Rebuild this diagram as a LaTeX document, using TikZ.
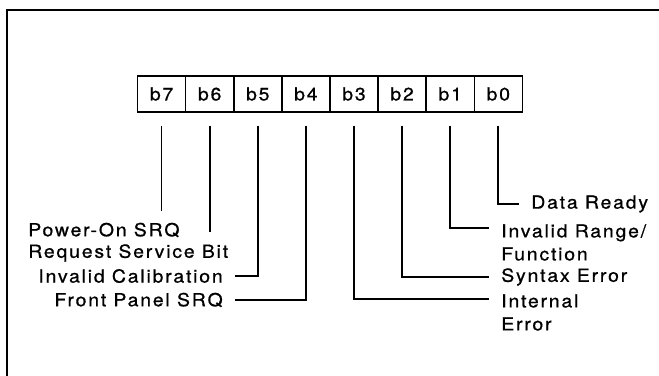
\documentclass[tikz,border=0pt]{standalone}
\usepackage{fontspec}
\setmainfont{TeX Gyre Heros}[FakeStretch=1.08,LetterSpace=10,FakeBold=0.8]
\begin{document}
\begin{tikzpicture}[x=0.75pt,y=-0.75pt,
  bitbox/.style={draw, line width=1.1pt, minimum width=36.1pt, minimum height=27pt, inner sep=0pt},
  lbl/.style={inner sep=0pt, align=left},
  wire/.style={line width=1.3pt, shorten >=9pt},
  font=\fontsize{13.5pt}{17.25pt}\selectfont]
\useasboundingbox (0,0) rectangle (659,375);
\draw[line width=1.5pt] (7,380) -- (7,10) -- (665,10);

\node[bitbox] (b7) at (161.6,94) {b7};
\node[bitbox] (b6) at (209.7,94) {b6};
\node[bitbox] (b5) at (257.8,94) {b5};
\node[bitbox] (b4) at (305.9,94) {b4};
\node[bitbox] (b3) at (354.0,94) {b3};
\node[bitbox] (b2) at (402.1,94) {b2};
\node[bitbox] (b1) at (450.2,94) {b1};
\node[bitbox] (b0) at (498.3,94) {b0};

\node[lbl, anchor=west] (pw) at (28,230) {Power-On SRQ};
\node[lbl, anchor=west] (rs) at (28,253) {Request Service Bit};
\node[lbl, anchor=east] (ic) at (223,276) {Invalid Calibration};
\node[lbl, anchor=east] (fp) at (223,300) {Front Panel SRQ};
\node[lbl, anchor=west] (dr) at (531,204) {Data Ready};
\node[lbl, anchor=north west] (ir) at (501,224) {Invalid Range/\\Function};
\node[lbl, anchor=west] (se) at (501,277) {Syntax Error};
\node[lbl, anchor=north west] (ie) at (501,294) {Internal\\Error};

\draw[wire] (b7.south) ++(0,13) -- (b7.south |- pw.north);
\draw[wire] (b6.south) ++(0,13) -- (b6.south |- rs.north);
\draw[wire] (b5.south) ++(0,13) |- (ic.east);
\draw[wire] (b4.south) ++(0,13) |- (fp.east);
\draw[wire] (b3.south) ++(0,13) |- ([yshift=-4pt]ie.north west);
\draw[wire] (b2.south) ++(0,13) |- (se.west);
\draw[wire] (b1.south) ++(0,13) |- ([yshift=-3pt]ir.north west);
\draw[wire] (b0.south) ++(0,13) |- (dr.west);
\end{tikzpicture}
\end{document}
